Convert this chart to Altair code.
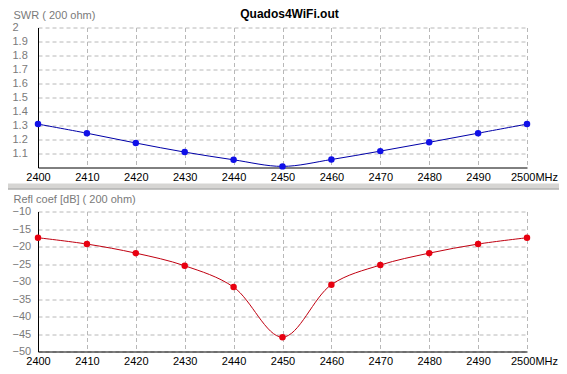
import altair as alt
import pandas as pd

# ---- data ----
freq = [2400, 2410, 2420, 2430, 2440, 2450, 2460, 2470, 2480, 2490, 2500]
swr = [1.31, 1.245, 1.175, 1.11, 1.055, 1.008, 1.057, 1.117, 1.18, 1.245, 1.31]
refl_db = [-17.5, -19.3, -21.9, -25.5, -31.6, -45.9, -30.9, -25.3, -21.9, -19.3, -17.5]

x_ticks = [2400, 2410, 2420, 2430, 2440, 2450, 2460, 2470, 2480, 2490, 2500]
swr_ticks = [1.1, 1.2, 1.3, 1.4, 1.5, 1.6, 1.7, 1.8, 1.9, 2.0]
db_ticks = [-50, -45, -40, -35, -30, -25, -20, -15, -10]

title_text = "Quados4WiFi.out"
swr_title = "SWR ( 200 ohm)"
db_title = "Refl coef [dB] ( 200 ohm)"

df = pd.DataFrame({"freq": freq, "swr": swr, "db": refl_db})
one = pd.DataFrame({"k": [0]})

W, H = 489, 140
SPACING = 44
FONT = "Liberation Sans, Arial"
FS = 11
PANEL_GRAY = "#d6d5d3"
GRID = "#b8b8b8"


def x_enc():
    return alt.X(
        "freq:Q",
        scale=alt.Scale(domain=[2400, 2500], nice=False, zero=False),
        axis=alt.Axis(
            values=x_ticks,
            title=None,
            format="d",
            labelExpr="datum.value == 2500 ? '2500MHz' : datum.label",
            labelOffset={"condition": {"test": "datum.value == 2500", "value": 7}, "value": 0},
            labelFlush=False,
            labelOverlap=False,
            labelPadding=4,
            labelColor="#000000",
            ticks=False,
            tickSize=0,
            domainColor="#000000",
            grid=True,
            gridColor=GRID,
            gridDash=[4, 3],
        ),
    )


def y_axis(ticks, title, fmt_expr):
    return alt.Axis(
        values=ticks,
        title=title,
        titleAngle=0,
        titleAlign="left",
        titleBaseline="middle",
        titleX=-25,
        titleY=-12.5,
        titleColor="#7a7a7a",
        titleFontWeight="normal",
        titleFont=FONT,
        titleFontSize=FS,
        labelExpr=fmt_expr,
        labelAlign="left",
        labelBaseline="middle",
        labelPadding=26,
        labelFlush=False,
        labelOverlap=False,
        labelColor="#7a7a7a",
        ticks=False,
        tickSize=0,
        domainColor="#000000",
        grid=True,
        gridColor=GRID,
        gridDash=[4, 3],
    )


# ---- top panel: SWR ----
swr_base = alt.Chart(df).encode(
    x=x_enc(),
    y=alt.Y(
        "swr:Q",
        scale=alt.Scale(domain=[1.0, 2.0], nice=False, zero=False),
        axis=y_axis(swr_ticks, swr_title, "format(datum.value, '~g')"),
    ),
)
swr_line = swr_base.mark_line(color="#0000a8", strokeWidth=1, interpolate="catmull-rom")
swr_pts = swr_base.mark_point(filled=True, color="#1010e8", size=42, opacity=1)
title_mark = alt.Chart(one).mark_text(
    text=title_text, font=FONT, fontSize=12, fontWeight="bold",
    color="#000000", baseline="middle", align="center",
).encode(x=alt.value(W / 2 + 7), y=alt.value(-13.5))

# grey band between the two panels (decoration)
gap_band = alt.Chart(one).mark_rect(color=PANEL_GRAY, clip=False).encode(
    x=alt.value(-40), x2=alt.value(W + 40),
    y=alt.value(H + 16), y2=alt.value(H + 22),
)
gap_edge = alt.Chart(one).mark_rule(color="#a0a0a0", strokeWidth=1).encode(
    x=alt.value(-40), x2=alt.value(W + 40), y=alt.value(H + 21.5)
)

top = alt.layer(gap_band, gap_edge, swr_line, swr_pts, title_mark).properties(width=W, height=H)

# ---- bottom panel: reflection coefficient ----
db_base = alt.Chart(df).encode(
    x=x_enc(),
    y=alt.Y(
        "db:Q",
        scale=alt.Scale(domain=[-50, -10], nice=False, zero=False),
        axis=y_axis(db_ticks, db_title, "datum.label"),
    ),
)
db_line = db_base.mark_line(color="#c00010", strokeWidth=1, interpolate="catmull-rom")
db_pts = db_base.mark_point(filled=True, color="#e80010", size=42, opacity=1)

bottom = alt.layer(db_line, db_pts).properties(width=W, height=H)

# svg size: with autosize "none" the concat reports its plot width but no height,
# so the padding alone sets the vertical extent.
SVG_W, SVG_H = 551, 358
PAD_L, PAD_T = 30, 19.5

chart = (
    alt.vconcat(top, bottom, spacing=SPACING, bounds="flush")
    .properties(
        autosize=alt.AutoSizeParams(type="none"),
        padding={
            "left": PAD_L,
            "top": PAD_T,
            "right": SVG_W - PAD_L - W,
            "bottom": SVG_H - PAD_T,
        },
        background="#ffffff",
    )
    .configure_view(stroke=None)
    .configure_axis(labelFont=FONT, labelFontSize=FS, titleFont=FONT)
)

chart.save("out.html", embed_options={"renderer": "svg", "actions": False})
